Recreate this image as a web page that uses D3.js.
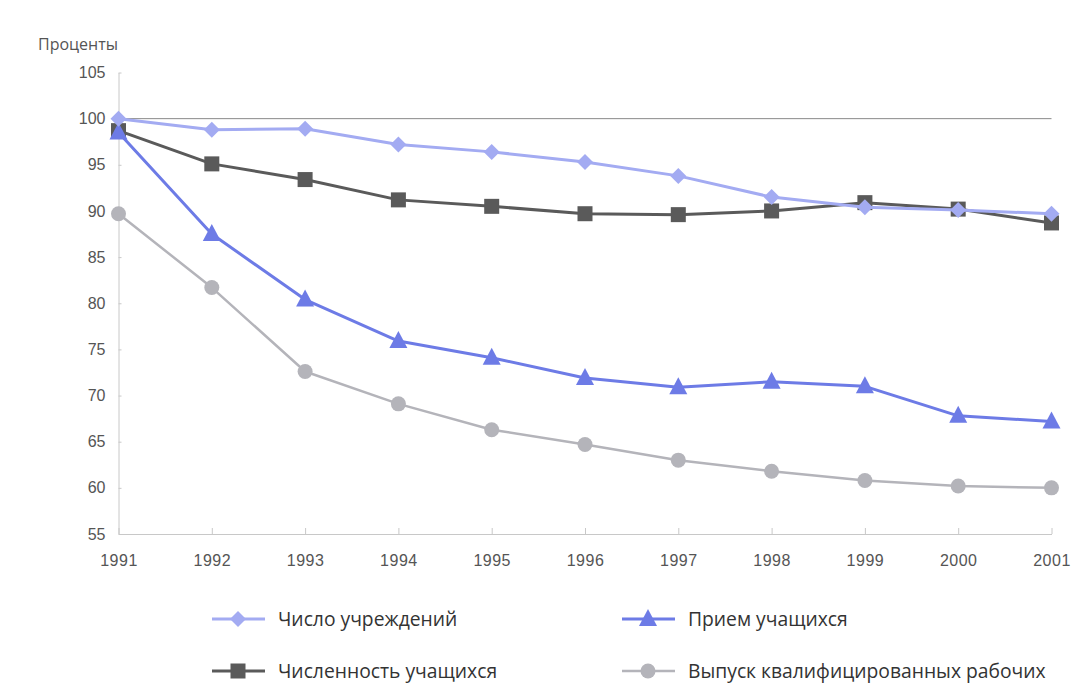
<!DOCTYPE html>
<html><head><meta charset="utf-8">
<script src="https://cdn.jsdelivr.net/npm/d3@7"></script>
<style>
html,body{margin:0;padding:0;background:#fff;}
svg{display:block;font-family:"Open Sans","Noto Sans",sans-serif;}
</style></head>
<body><svg id="chart" width="1079" height="694"></svg>
<script>
const years = [1991,1992,1993,1994,1995,1996,1997,1998,1999,2000,2001];
const yTicks = [55,60,65,70,75,80,85,90,95,100,105];
const institutions = [100,98.8,98.9,97.2,96.4,95.3,93.8,91.5,90.4,90.1,89.7];
const students     = [98.7,95.1,93.4,91.2,90.5,89.7,89.6,90.0,90.9,90.2,88.7];
const admission    = [98.5,87.5,80.4,75.9,74.1,71.9,70.9,71.5,71.0,67.8,67.2];
const graduates    = [89.7,81.7,72.6,69.1,66.3,64.7,63.0,61.8,60.8,60.2,60.0];
const seriesNames = ["Число учреждений","Прием учащихся","Численность учащихся","Выпуск квалифицированных рабочих"];
const yLabel = "Проценты";

const series = [
  {name:seriesNames[2], values:students, color:"#5a5a5a", marker:"square", w:3},
  {name:seriesNames[3], values:graduates, color:"#b4b4ba", marker:"circle", w:2.5},
  {name:seriesNames[1], values:admission, color:"#6d7be6", marker:"triangle", w:3},
  {name:seriesNames[0], values:institutions, color:"#a3abf2", marker:"diamond", w:3}
];

const svg = d3.select("#chart");
const x = d3.scaleLinear().domain([1991,2001]).range([118.5,1051.5]);
const y = d3.scaleLinear().domain([55,105]).range([534,72.5]);

// reference line at 100
svg.append("line").attr("x1",x(1991)).attr("x2",x(2001)).attr("y1",y(100)).attr("y2",y(100))
  .attr("stroke","#8a8a8a").attr("stroke-width",1);

// axes
const yAxis = svg.append("g").attr("transform",`translate(${x(1991)},0)`)
  .call(d3.axisLeft(y).tickValues(yTicks).tickSize(5).tickSizeOuter(0));
yAxis.select(".domain").attr("stroke","#c8c8c8");
yAxis.selectAll(".tick line").attr("stroke","#c8c8c8").attr("x2",3);
yAxis.selectAll(".tick text").attr("fill","#555").style("font-size","16px").attr("x",-13);

const xAxis = svg.append("g").attr("transform",`translate(0,${y(55)})`)
  .call(d3.axisBottom(x).tickValues(years).tickFormat(d3.format("d")).tickSize(0).tickSizeOuter(0));
xAxis.select(".domain").attr("stroke","#c8c8c8");
xAxis.selectAll(".tick line").attr("stroke","#c8c8c8").attr("y1",-6).attr("y2",0);
xAxis.selectAll(".tick text").attr("fill","#555").style("font-size","16px").style("letter-spacing","0.5px").attr("y",21);

svg.append("text").attr("x",38).attr("y",50).text(yLabel).attr("fill","#555").style("font-size","16px");

function drawMarker(g, type, cx, cy, color){
  if(type==="diamond"){
    g.append("path").attr("d",`M${cx},${cy-8}L${cx+8},${cy}L${cx},${cy+8}L${cx-8},${cy}Z`).attr("fill",color);
  } else if(type==="square"){
    g.append("rect").attr("x",cx-7.5).attr("y",cy-7.5).attr("width",15).attr("height",15).attr("fill",color);
  } else if(type==="triangle"){
    g.append("path").attr("d",`M${cx},${cy-10}L${cx+9},${cy+7}L${cx-9},${cy+7}Z`).attr("fill",color);
  } else {
    g.append("circle").attr("cx",cx).attr("cy",cy).attr("r",7.5).attr("fill",color);
  }
}

const line = d3.line().x((d,i)=>x(years[i])).y(d=>y(d));
series.forEach(s=>{
  const g = svg.append("g");
  g.append("path").attr("d",line(s.values)).attr("fill","none").attr("stroke",s.color)
    .attr("stroke-width",s.w).attr("stroke-linejoin","round");
  s.values.forEach((v,i)=>drawMarker(g,s.marker,x(years[i]),y(v),s.color));
});

// legend
const legendItems = [
  {s:series[3], lx:212, ly:619},
  {s:series[2], lx:622, ly:619},
  {s:series[0], lx:212, ly:671},
  {s:series[1], lx:622, ly:671}
];
legendItems.forEach(it=>{
  const g = svg.append("g");
  g.append("line").attr("x1",it.lx).attr("x2",it.lx+53).attr("y1",it.ly).attr("y2",it.ly)
    .attr("stroke",it.s.color).attr("stroke-width",it.s.w);
  drawMarker(g,it.s.marker,it.lx+26,it.ly,it.s.color);
  g.append("text").attr("x",it.lx+66).attr("y",it.ly+7).text(it.s.name)
    .attr("fill","#333").style("font-size","19.3px");
});
</script></body></html>
